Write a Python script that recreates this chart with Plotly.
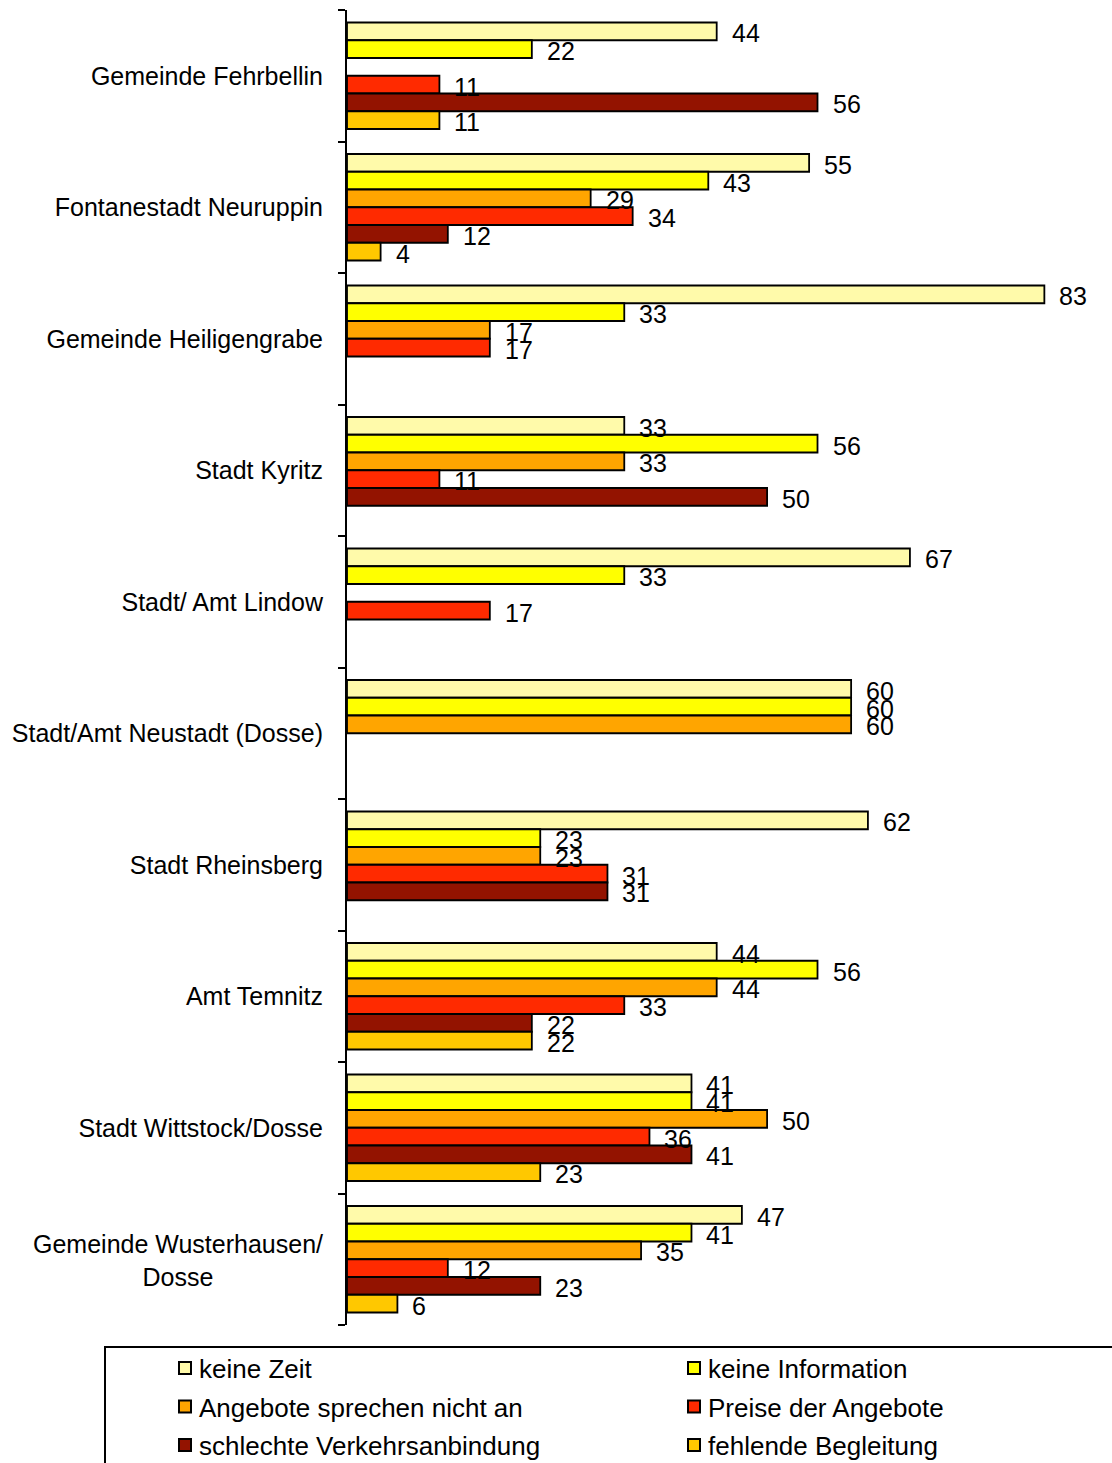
import plotly.graph_objects as go

# Gemeinden (top to bottom)
categories = [
    "Gemeinde Fehrbellin",
    "Fontanestadt Neuruppin",
    "Gemeinde Heiligengrabe",
    "Stadt Kyritz",
    "Stadt/ Amt Lindow",
    "Stadt/Amt Neustadt (Dosse)",
    "Stadt Rheinsberg",
    "Amt Temnitz",
    "Stadt Wittstock/Dosse",
    "Gemeinde Wusterhausen/<br>Dosse",
]

series_names = [
    "keine Zeit",
    "keine Information",
    "Angebote sprechen nicht an",
    "Preise der Angebote",
    "schlechte Verkehrsanbindung",
    "fehlende Begleitung",
]

# Percentages per series (None = no answer in that Gemeinde)
keine_zeit = [44, 55, 83, 33, 67, 60, 62, 44, 41, 47]
keine_information = [22, 43, 33, 56, 33, 60, 23, 56, 41, 41]
angebote_nicht_an = [None, 29, 17, 33, None, 60, 23, 44, 50, 35]
preise = [11, 34, 17, 11, 17, None, 31, 33, 36, 12]
verkehrsanbindung = [56, 12, None, 50, None, None, 31, 22, 41, 23]
begleitung = [11, 4, None, None, None, None, None, 22, 23, 6]

series_values = [
    keine_zeit,
    keine_information,
    angebote_nicht_an,
    preise,
    verkehrsanbindung,
    begleitung,
]

colors = ["#FFFAAA", "#FFFF00", "#FFA500", "#FF2A00", "#931300", "#FFC800"]

FONT = "Liberation Sans, Arial, sans-serif"
BARGAP = 0.19

W, H = 1112, 1463
ML, MR, MT, MB = 347, 0, 10, 138
PW, PH = W - ML - MR, H - MT - MB


def px_x(x):
    """pixel column -> paper x"""
    return (x - ML) / PW


def px_y(y):
    """pixel row -> paper y"""
    return (H - MB - y) / PH


n_cat = len(categories)
fig = go.Figure()
for name, vals, col in zip(series_names, series_values, colors):
    fig.add_trace(go.Bar(
        name=name,
        y=list(range(n_cat)),
        x=vals,
        orientation="h",
        marker=dict(color=col, line=dict(color="black", width=1.8)),
        hoverinfo="skip",
        showlegend=False,
    ))

annotations = []
shapes = []

# value labels to the right of each bar
n = len(series_names)
bw = (1 - BARGAP) / n
for j, vals in enumerate(series_values):
    for i, v in enumerate(vals):
        if v is None:
            continue
        yc = i - (1 - BARGAP) / 2 + bw * (j + 0.5)
        annotations.append(dict(
            x=v, y=yc, xref="x", yref="y",
            text=str(v), showarrow=False,
            xanchor="left", yanchor="middle",
            xshift=13, yshift=-2,
            font=dict(family=FONT, size=25, color="black"),
        ))

# the two-line category label is centred line by line
annotations.append(dict(
    x=0, y=n_cat - 1, xref="paper", yref="y",
    text=categories[-1], showarrow=False,
    xanchor="right", yanchor="middle", align="center",
    xshift=-22, yshift=-1,
    font=dict(family=FONT, size=25, color="black"),
))
ticktext = categories[:-1] + [""]

# legend: framed box with two columns of entries
shapes.append(dict(
    type="rect", xref="paper", yref="paper",
    x0=px_x(105), x1=px_x(1130), y0=px_y(1347), y1=px_y(1480),
    line=dict(color="black", width=2), fillcolor="rgba(0,0,0,0)",
    layer="above",
))
for j, (name, col) in enumerate(zip(series_names, colors)):
    row, colnum = divmod(j, 2)
    cx = 185 + colnum * 509
    cy = 1368 + row * 38.5
    shapes.append(dict(
        type="rect", xref="paper", yref="paper",
        x0=px_x(cx - 6), x1=px_x(cx + 6), y0=px_y(cy + 6), y1=px_y(cy - 6),
        line=dict(color="black", width=2), fillcolor=col,
    ))
    annotations.append(dict(
        x=px_x(cx + 12), y=px_y(cy + 1), xref="paper", yref="paper",
        text=name, showarrow=False,
        xanchor="left", yanchor="middle",
        font=dict(family=FONT, size=26, color="black"),
    ))

fig.update_layout(
    width=W,
    height=H,
    barmode="group",
    bargap=BARGAP,
    bargroupgap=0,
    plot_bgcolor="white",
    paper_bgcolor="white",
    margin=dict(l=ML, r=MR, t=MT, b=MB, autoexpand=False),
    font=dict(family=FONT, size=25, color="black"),
    annotations=annotations,
    shapes=shapes,
    showlegend=False,
)

fig.update_xaxes(
    range=[0, 91.05],
    visible=False,
    showgrid=False,
    zeroline=False,
)
fig.update_yaxes(
    tickmode="array",
    tickvals=list(range(n_cat)),
    ticktext=ticktext,
    range=[n_cat - 0.5, -0.5],
    ticks="",
    minor=dict(
        tickmode="array",
        tickvals=[i - 0.5 for i in range(n_cat + 1)],
        ticks="outside",
        ticklen=7,
        tickwidth=2,
        tickcolor="black",
        showgrid=False,
    ),
    showline=True,
    linecolor="black",
    linewidth=2,
    showgrid=False,
    zeroline=False,
    ticklabelstandoff=17,
    tickfont=dict(family=FONT, size=25, color="black"),
)

fig.write_html("out.html")
